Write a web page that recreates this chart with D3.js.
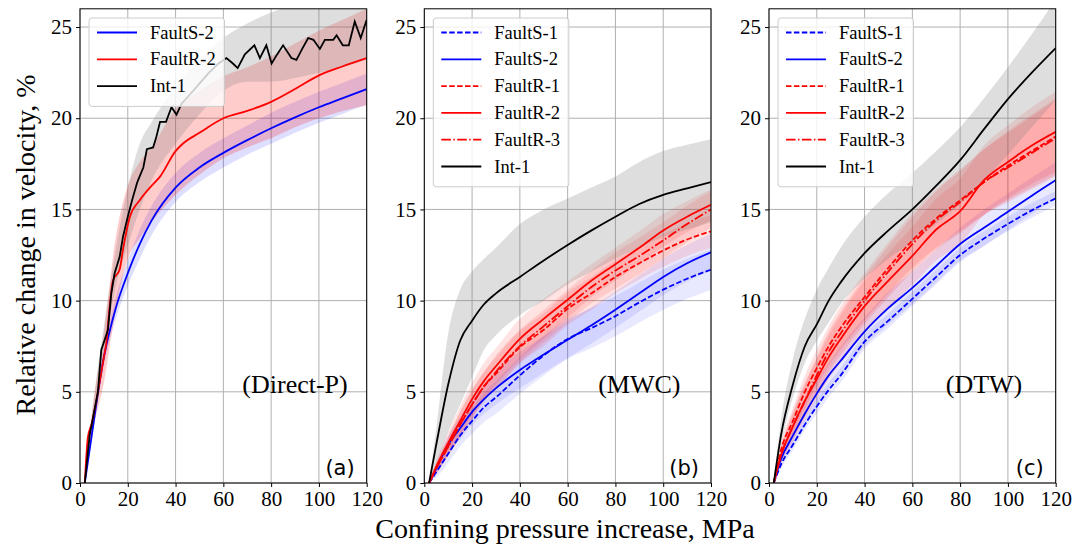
<!DOCTYPE html>
<html><head><meta charset="utf-8">
<script src="https://cdn.jsdelivr.net/npm/d3@7"></script>
<style>body{margin:0;background:#fff}svg{display:block}</style>
</head><body>
<svg id="c" width="1073" height="547"></svg>
<script>
// ---------------- DATA ----------------
const xTicks = [0, 20, 40, 60, 80, 100, 120];
const yTicks = [0, 5, 10, 15, 20, 25];
const panelTitles = ["(Direct-P)", "(MWC)", "(DTW)"];
const panelLetters = ["(a)", "(b)", "(c)"];
const xLabel = "Confining pressure increase, MPa";
const yLabel = "Relative change in velocity, %";

// common pressure grid (MPa)
const G = [2, 5, 10, 15, 20, 25, 30, 40, 50, 60, 70, 80, 90, 100, 110, 120];

// ---- panel (a) Direct-P ----
const aFaultS2 = [0, 2.7, 6.9, 9.6, 11.5, 13.1, 14.4, 16.2, 17.3, 18.1, 18.8, 19.45, 20.05, 20.6, 21.1, 21.6];
const aFaultS2Lo = [0, 2.4, 6.5, 9.0, 10.8, 12.3, 13.6, 15.4, 16.5, 17.3, 18.0, 18.6, 19.2, 19.75, 20.25, 20.75];
const aFaultS2Hi = [0, 3.0, 7.3, 10.2, 12.2, 13.9, 15.2, 17.0, 18.1, 18.9, 19.6, 20.3, 20.9, 21.45, 21.95, 22.45];

const aFaultR2X = [2, 3.3, 5, 7.5, 10, 11, 12.4, 13.8, 16.6, 18, 20.9, 25, 30, 33.5, 40, 43, 50, 60, 70, 80, 90, 100, 110, 120];
const aFaultR2 = [0, 2.5, 3.3, 5, 6.9, 7.66, 9.67, 11.1, 11.7, 12.8, 14.6, 15.5, 16.3, 16.8, 18.2, 18.6, 19.2, 20.0, 20.4, 20.9, 21.6, 22.35, 22.85, 23.3];
const aFaultR2Lo = [0, 2.6, 5.5, 9.5, 12.3, 13.4, 14.3, 15.8, 16.9, 17.8, 18.4, 18.9, 19.5, 20.0, 20.4, 20.7];
const aFaultR2Hi = [0, 3.8, 8.3, 13.5, 16.3, 17.6, 18.4, 20.5, 21.5, 22.3, 22.8, 23.4, 24.1, 24.8, 25.4, 26.0];

const aInt1X = [2, 4, 7.5, 8.9, 10.3, 11.7, 13.1, 14.5, 16.6, 18, 20, 22, 24, 26.5, 28, 30.6, 32, 33.5, 34.2, 36, 38.3, 40.4, 42.5, 46, 50, 54, 58, 61.3, 64, 66, 69, 73, 75.3, 78, 80.2, 82.5, 85, 88.5, 90.6, 93, 95.5, 97.7, 100.4, 102.5, 106, 107.4, 110, 112.5, 115, 117.5, 120];
const aInt1 = [0, 2.6, 5, 7.3, 7.84, 8.4, 10.4, 11.5, 12.4, 13.5, 14.6, 15.6, 16.5, 17.3, 18.3, 18.4, 19.0, 19.8, 19.8, 19.8, 20.6, 20.2, 20.8, 21.3, 21.9, 22.5, 23.0, 23.3, 23.0, 22.75, 23.5, 24.0, 23.3, 24.0, 23.0, 23.5, 24.0, 23.3, 23.2, 23.8, 24.4, 24.3, 23.8, 24.3, 24.3, 24.55, 24.0, 24.0, 25.3, 24.4, 25.4];
const aInt1Lo = [0, 2.8, 7.0, 10.8, 13.0, 15.0, 16.6, 18.6, 20.2, 21.5, 22.0, 22.0, 22.2, 22.5, 22.8, 23.2];
const aInt1Hi = [0, 3.8, 8.6, 12.8, 16.2, 18.6, 19.8, 21.7, 23.2, 24.4, 25.2, 25.8, 26.2, 26.5, 26.8, 27.0];

// ---- panel (b) MWC ----
const bFaultS1 = [0, 0.6, 1.6, 2.6, 3.4, 4.15, 4.7, 5.9, 7.0, 7.9, 8.5, 9.15, 9.9, 10.6, 11.2, 11.7];
const bFaultS2 = [0, 0.8, 2.1, 3.0, 3.9, 4.6, 5.2, 6.2, 7.05, 7.85, 8.65, 9.5, 10.4, 11.3, 12.05, 12.65];
const bFaultR1 = [0, 0.8, 2.0, 3.2, 4.3, 5.3, 6.0, 7.45, 8.4, 9.55, 10.4, 11.3, 12.05, 12.75, 13.35, 13.8];
const bFaultR2 = [0, 0.9, 2.2, 3.4, 4.6, 5.6, 6.4, 7.9, 9.0, 10.05, 11.1, 12.0, 12.9, 13.85, 14.6, 15.25];
const bFaultR3 = [0, 0.8, 2.0, 3.2, 4.3, 5.3, 6.1, 7.5, 8.6, 9.7, 10.75, 11.65, 12.45, 13.3, 14.2, 15.0];
const bInt1 = [0, 2.1, 5.4, 7.8, 8.9, 9.8, 10.4, 11.3, 12.2, 13.05, 13.85, 14.6, 15.3, 15.8, 16.15, 16.5];
// band half-widths (std) for coloured series
const bFaultS1W = [0, 0.3, 0.5, 0.6, 0.7, 0.8, 0.9, 1.0, 1.1, 1.1, 1.1, 1.1, 1.1, 1.1, 1.1, 1.1];
const bFaultS2W = [0, 0.3, 0.5, 0.6, 0.7, 0.8, 0.9, 1.0, 1.0, 1.0, 1.0, 1.0, 1.0, 1.0, 1.0, 1.0];
const bFaultR1W = [0, 0.3, 0.5, 0.7, 0.8, 0.8, 0.9, 0.9, 0.9, 0.9, 0.9, 0.9, 0.9, 0.9, 0.9, 0.9];
const bFaultR2W = [0, 0.3, 0.6, 0.8, 0.9, 1.0, 1.0, 1.1, 1.1, 1.0, 0.9, 0.9, 0.9, 0.9, 0.85, 0.85];
const bFaultR3W = [0, 0.3, 0.5, 0.7, 0.8, 0.8, 0.9, 0.9, 0.9, 0.9, 0.9, 1.0, 1.0, 1.0, 1.0, 1.0];
const bInt1Lo = [0, 1.0, 2.8, 4.3, 5.8, 7.3, 8.1, 9.2, 10.0, 10.9, 11.6, 12.3, 12.9, 13.5, 13.9, 14.3];
const bInt1Hi = [0, 3.0, 8.2, 10.6, 11.6, 12.3, 12.9, 14.2, 15.0, 15.6, 16.2, 16.8, 17.6, 18.2, 18.55, 18.85];

// ---- panel (c) DTW ----
const cFaultS1 = [0, 1.0, 2.1, 3.2, 4.2, 5.1, 5.9, 7.75, 8.9, 10.1, 11.3, 12.5, 13.4, 14.2, 14.95, 15.6];
const cFaultS2 = [0, 1.3, 2.6, 3.8, 4.9, 5.9, 6.7, 8.3, 9.6, 10.7, 11.9, 13.1, 14.0, 14.87, 15.75, 16.6];
const cFaultR1 = [0, 1.8, 3.4, 5.0, 6.3, 7.5, 8.5, 10.2, 11.8, 13.3, 14.5, 15.5, 16.5, 17.4, 18.2, 19.0];
const cFaultR2 = [0, 1.5, 3.1, 4.5, 5.7, 6.9, 7.9, 9.7, 11.1, 12.45, 13.9, 14.9, 16.6, 17.6, 18.5, 19.25];
const cFaultR3 = [0, 1.5, 3.1, 4.5, 5.9, 7.2, 8.2, 10.0, 11.6, 13.1, 14.4, 15.4, 16.5, 17.3, 18.1, 18.9];
const cInt1 = [0, 2.6, 5.4, 7.5, 8.7, 10.0, 11.0, 12.6, 13.85, 15.0, 16.3, 17.7, 19.4, 21.05, 22.5, 23.85];
const cFaultS1W = [0, 0.2, 0.3, 0.3, 0.4, 0.4, 0.4, 0.4, 0.4, 0.4, 0.4, 0.4, 0.4, 0.4, 0.4, 0.4];
const cFaultS2W = [0, 0.3, 0.5, 0.6, 0.7, 0.7, 0.8, 0.8, 0.9, 0.9, 0.9, 0.9, 1.0, 1.0, 1.0, 1.0];
const cFaultR1W = [0, 0.4, 0.7, 0.9, 1.0, 1.1, 1.2, 1.3, 1.4, 1.5, 1.6, 1.7, 1.8, 1.9, 2.0, 2.1];
const cFaultR2W = [0, 0.4, 0.8, 1.0, 1.1, 1.2, 1.3, 1.4, 1.5, 1.6, 1.7, 1.8, 1.9, 2.0, 2.1, 2.2];
const cFaultR3W = [0, 0.4, 0.7, 0.9, 1.0, 1.1, 1.2, 1.3, 1.4, 1.5, 1.6, 1.7, 1.8, 1.9, 2.0, 2.1];
const cInt1Lo = [0, 2.1, 4.7, 6.6, 7.8, 8.8, 9.8, 11.2, 12.3, 13.2, 14.2, 15.3, 16.6, 18.0, 19.5, 21.0];
const cInt1Hi = [0, 3.4, 6.8, 9.0, 10.6, 11.8, 12.9, 14.6, 15.9, 17.0, 18.2, 19.5, 21.1, 22.8, 24.6, 26.5];

// ---------------- STYLE ----------------
const COL = {blue: "#0000ff", red: "#ff0000", black: "#000000"};
const BAND_COL = {blue: "#0000ff", red: "#ff0000", black: "#808080"};
const BAND_ALPHA = [
  {blue: 0.13, red: 0.2, black: 0.26},
  {blue: 0.09, red: 0.11, black: 0.26},
  {blue: 0.09, red: 0.12, black: 0.26}
];
const DASH = {solid: null, dashed: "5.5,2.4", dashdot: "9.6,2.4,1.5,2.4"};

const zipG = ys => G.map((x, i) => [x, ys[i]]);
const zipX = (xs, ys) => xs.map((x, i) => [x, ys[i]]);
const bandLoHi = (lo, hi) => G.map((x, i) => [x, lo[i], hi[i]]);
const bandW = (ys, w) => G.map((x, i) => [x, ys[i] - w[i], ys[i] + w[i]]);

const panels = [
  {
    series: [
      {name: "FaultS-2", color: "blue", style: "solid", pts: zipG(aFaultS2), band: bandLoHi(aFaultS2Lo, aFaultS2Hi)},
      {name: "FaultR-2", color: "red", style: "solid", pts: zipX(aFaultR2X, aFaultR2), band: bandLoHi(aFaultR2Lo, aFaultR2Hi)},
      {name: "Int-1", color: "black", style: "solid", pts: zipX(aInt1X, aInt1), band: bandLoHi(aInt1Lo, aInt1Hi), linear: true}
    ]
  },
  {
    series: [
      {name: "FaultS-1", color: "blue", style: "dashed", pts: zipG(bFaultS1), band: bandW(bFaultS1, bFaultS1W)},
      {name: "FaultS-2", color: "blue", style: "solid", pts: zipG(bFaultS2), band: bandW(bFaultS2, bFaultS2W)},
      {name: "FaultR-1", color: "red", style: "dashed", pts: zipG(bFaultR1), band: bandW(bFaultR1, bFaultR1W)},
      {name: "FaultR-2", color: "red", style: "solid", pts: zipG(bFaultR2), band: bandW(bFaultR2, bFaultR2W)},
      {name: "FaultR-3", color: "red", style: "dashdot", pts: zipG(bFaultR3), band: bandW(bFaultR3, bFaultR3W)},
      {name: "Int-1", color: "black", style: "solid", pts: zipG(bInt1), band: bandLoHi(bInt1Lo, bInt1Hi)}
    ]
  },
  {
    series: [
      {name: "FaultS-1", color: "blue", style: "dashed", pts: zipG(cFaultS1), band: bandW(cFaultS1, cFaultS1W)},
      {name: "FaultS-2", color: "blue", style: "solid", pts: zipG(cFaultS2), band: bandW(cFaultS2, cFaultS2W)},
      {name: "FaultR-1", color: "red", style: "dashed", pts: zipG(cFaultR1), band: bandW(cFaultR1, cFaultR1W)},
      {name: "FaultR-2", color: "red", style: "solid", pts: zipG(cFaultR2), band: bandW(cFaultR2, cFaultR2W)},
      {name: "FaultR-3", color: "red", style: "dashdot", pts: zipG(cFaultR3), band: bandW(cFaultR3, cFaultR3W)},
      {name: "Int-1", color: "black", style: "solid", pts: zipG(cInt1), band: bandLoHi(cInt1Lo, cInt1Hi)}
    ]
  }
];

// ---------------- LAYOUT ----------------
const svg = d3.select("#c");
const lefts = [80, 424.3, 769];
const PW = 286.7, TOP = 8.8, BOTTOM = 483;
const serif = "Liberation Serif, Times New Roman, serif";
const sans = "DejaVu Sans, sans-serif";

const y = d3.scaleLinear().domain([0, 26]).range([BOTTOM, TOP]);

panels.forEach((p, pi) => {
  const x = d3.scaleLinear().domain([0, 120]).range([lefts[pi], lefts[pi] + PW]);
  const g = svg.append("g");
  const clipId = "clip" + pi;
  svg.append("clipPath").attr("id", clipId).append("rect")
    .attr("x", lefts[pi]).attr("y", TOP).attr("width", PW).attr("height", BOTTOM - TOP);

  // grid
  g.append("g").selectAll("line").data(xTicks).join("line")
    .attr("x1", d => x(d)).attr("x2", d => x(d)).attr("y1", TOP).attr("y2", BOTTOM)
    .attr("stroke", "#b0b0b0").attr("stroke-width", 1);
  g.append("g").selectAll("line").data(yTicks).join("line")
    .attr("x1", lefts[pi]).attr("x2", lefts[pi] + PW).attr("y1", d => y(d)).attr("y2", d => y(d))
    .attr("stroke", "#b0b0b0").attr("stroke-width", 1);

  const plot = g.append("g").attr("clip-path", `url(#${clipId})`);
  // bands
  p.series.forEach(s => {
    const area = d3.area().x(d => x(d[0])).y0(d => y(d[1])).y1(d => y(d[2])).curve(d3.curveMonotoneX);
    plot.append("path").attr("d", area(s.band))
      .attr("fill", BAND_COL[s.color]).attr("fill-opacity", BAND_ALPHA[pi][s.color]).attr("stroke", "none");
  });
  // lines
  p.series.forEach(s => {
    const line = d3.line().x(d => x(d[0])).y(d => y(d[1])).curve(s.linear ? d3.curveLinear : d3.curveMonotoneX);
    plot.append("path").attr("d", line(s.pts)).attr("fill", "none")
      .attr("stroke", COL[s.color]).attr("stroke-width", 1.8)
      .attr("stroke-dasharray", DASH[s.style]);
  });

  // axes
  const xAxis = d3.axisBottom(x).tickValues(xTicks).tickSize(4).tickPadding(4);
  const gx = svg.append("g").attr("transform", `translate(0,${BOTTOM})`).call(xAxis)
    .attr("font-family", serif).attr("font-size", 21);
  gx.select(".domain").remove();
  gx.selectAll("text").attr("fill", "#000");
  const yAxis = d3.axisLeft(y).tickValues(yTicks).tickSize(4).tickPadding(4);
  const gy = svg.append("g").attr("transform", `translate(${lefts[pi]},0)`).call(yAxis)
    .attr("font-family", serif).attr("font-size", 21);
  gy.select(".domain").remove();
  gy.selectAll("text").attr("fill", "#000");

  // frame
  svg.append("rect").attr("x", lefts[pi]).attr("y", TOP).attr("width", PW).attr("height", BOTTOM - TOP)
    .attr("fill", "none").attr("stroke", "#000").attr("stroke-width", 1);

  // titles
  svg.append("text").attr("x", x(90)).attr("y", y(4.93)).attr("text-anchor", "middle")
    .attr("font-family", serif).attr("font-size", 26).text(panelTitles[pi]);
  svg.append("text").attr("x", lefts[pi] + PW - 12).attr("y", BOTTOM - 8).attr("text-anchor", "end")
    .attr("font-family", sans).attr("font-size", 21).text(panelLetters[pi]);

  // legend
  const n = p.series.length;
  const lx = lefts[pi] + 9, ly = 18, rowH = 26.8;
  const lw = 135.5, lh = 12 + n * rowH - 4;
  const lg = svg.append("g");
  lg.append("rect").attr("x", lx).attr("y", ly).attr("width", lw).attr("height", lh).attr("rx", 3)
    .attr("fill", "#fff").attr("fill-opacity", 0.8).attr("stroke", "#cccccc").attr("stroke-width", 1);
  p.series.forEach((s, i) => {
    const cy = ly + 14.5 + i * rowH;
    lg.append("line").attr("x1", lx + 8).attr("x2", lx + 48).attr("y1", cy).attr("y2", cy)
      .attr("stroke", COL[s.color]).attr("stroke-width", 1.8).attr("stroke-dasharray", DASH[s.style]);
    lg.append("text").attr("x", lx + 61).attr("y", cy + 6).attr("font-family", serif)
      .attr("font-size", 18.5).text(s.name);
  });
});

// axis labels
svg.append("text").attr("x", 565).attr("y", 538).attr("text-anchor", "middle")
  .attr("font-family", serif).attr("font-size", 28).text(xLabel);
svg.append("text").attr("transform", "translate(35,245) rotate(-90)").attr("text-anchor", "middle")
  .attr("font-family", serif).attr("font-size", 28).text(yLabel);
</script>
</body></html>
